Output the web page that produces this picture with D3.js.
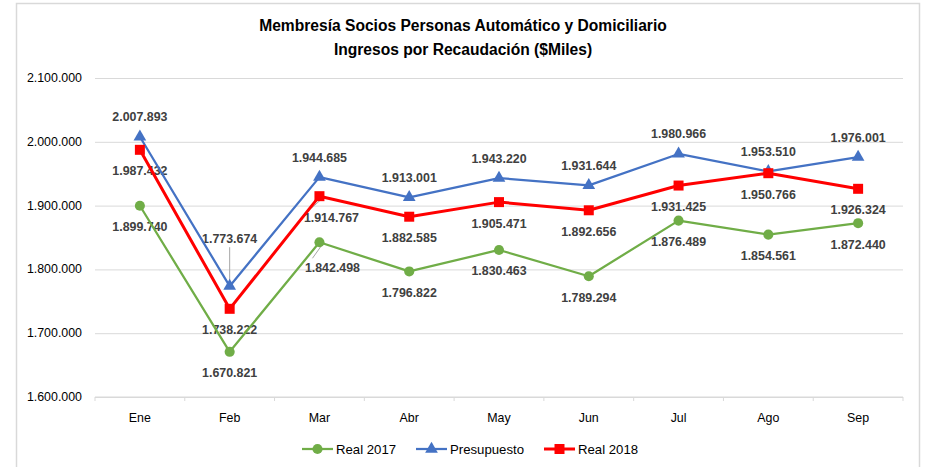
<!DOCTYPE html>
<html>
<head>
<meta charset="utf-8">
<script src="https://cdn.jsdelivr.net/npm/d3@7"></script>
<style>
  body { margin: 0; background: #fff; }
  text { font-family: "Liberation Sans", Arial, sans-serif; }
</style>
</head>
<body>
<div id="chart"></div>
<script>
// Membresía Socios Personas - Ingresos por Recaudación ($Miles)
const months = ["Ene", "Feb", "Mar", "Abr", "May", "Jun", "Jul", "Ago", "Sep"];
const real2017 = [1899740, 1670821, 1842498, 1796822, 1830463, 1789294, 1876489, 1854561, 1872440];
const presupuesto = [2007893, 1773674, 1944685, 1913001, 1943220, 1931644, 1980966, 1953510, 1976001];
const real2018 = [1987432, 1738222, 1914767, 1882585, 1905471, 1892656, 1931425, 1950766, 1926324];
const yTicks = [1600000, 1700000, 1800000, 1900000, 2000000, 2100000];
const titleLines = ["Membresía Socios Personas Automático y Domiciliario", "Ingresos por Recaudación ($Miles)"];

const width = 926, height = 467;
const margin = { top: 78, right: 22, bottom: 70, left: 95 };

const fmt = v => d3.format(",")(v).replace(/,/g, ".");

const series = [
  { name: "Real 2017",   values: real2017,    color: "#70AD47", lw: 2.25, shape: "circle",   pos: "below",
    nudge: { 2: [13, 4] } },
  { name: "Presupuesto", values: presupuesto, color: "#4472C4", lw: 2.25, shape: "triangle", pos: "above",
    nudge: { 1: [0, -28] } },
  { name: "Real 2018",   values: real2018,    color: "#FF0000", lw: 3,    shape: "square",   pos: "below",
    nudge: { 2: [12, 0] } }
];

const svg = d3.select("#chart").append("svg")
  .attr("width", width)
  .attr("height", height);

// chart frame
svg.append("rect")
  .attr("x", 16.5).attr("y", 3.5)
  .attr("width", 903).attr("height", 480)
  .attr("fill", "#fff")
  .attr("stroke", "#d9d9d9")
  .attr("stroke-width", 1.5);

// title
svg.append("g").selectAll("text")
  .data(titleLines)
  .join("text")
  .attr("x", 463)
  .attr("y", (d, i) => 31 + i * 24)
  .attr("text-anchor", "middle")
  .style("font-size", "15.6px")
  .style("font-weight", "bold")
  .style("fill", "#000")
  .text(d => d);

const x = d3.scaleBand()
  .domain(months)
  .range([margin.left, width - margin.right - 1]);

const y = d3.scaleLinear()
  .domain([1600000, 2100000])
  .range([397, 78]);

// gridlines
svg.append("g")
  .attr("transform", `translate(${margin.left},0)`)
  .call(d3.axisLeft(y).tickValues(yTicks).tickSize(-(x.range()[1] - x.range()[0])).tickFormat(""))
  .call(g => g.select(".domain").remove())
  .call(g => g.selectAll("line").attr("stroke", "#d9d9d9").attr("stroke-width", 1));

// y tick labels
svg.append("g").selectAll("text")
  .data(yTicks)
  .join("text")
  .attr("x", 82)
  .attr("y", d => y(d) + 4)
  .attr("text-anchor", "end")
  .style("font-size", "12.4px")
  .style("fill", "#000")
  .text(fmt);

// x axis with ticks at category boundaries
const xAxisG = svg.append("g").attr("transform", `translate(0,${y(1600000)})`);
xAxisG.append("line")
  .attr("x1", x.range()[0]).attr("x2", x.range()[1])
  .attr("stroke", "#d9d9d9");
xAxisG.selectAll(".tk")
  .data(months.concat(["end"]))
  .join("line")
  .attr("class", "tk")
  .attr("x1", (d, i) => i < months.length ? x(d) : x.range()[1])
  .attr("x2", (d, i) => i < months.length ? x(d) : x.range()[1])
  .attr("y1", 0).attr("y2", 4)
  .attr("stroke", "#d9d9d9");
xAxisG.selectAll(".lbl")
  .data(months)
  .join("text")
  .attr("class", "lbl")
  .attr("x", d => x(d) + x.bandwidth() / 2)
  .attr("y", 25)
  .attr("text-anchor", "middle")
  .style("font-size", "12.4px")
  .style("fill", "#000")
  .text(d => d);

const cx = (d, i) => x(months[i]) + x.bandwidth() / 2;

const symbolFor = shape => {
  if (shape === "circle") return d3.symbol(d3.symbolCircle, 80)();
  if (shape === "triangle") return d3.symbol(d3.symbolTriangle, 70)();
  return d3.symbol(d3.symbolSquare, 100)();
};

const line = d3.line()
  .x((d, i) => cx(d, i))
  .y(d => y(d));

const labelLayer = svg.append("g");

series.forEach(s => {
  svg.append("path")
    .datum(s.values)
    .attr("fill", "none")
    .attr("stroke", s.color)
    .attr("stroke-width", s.lw)
    .attr("stroke-linejoin", "round")
    .attr("d", line);

  svg.append("g").selectAll("path")
    .data(s.values)
    .join("path")
    .attr("transform", (d, i) => `translate(${cx(d, i)},${y(d)})`)
    .attr("d", symbolFor(s.shape))
    .attr("fill", s.color);

  s.values.forEach((v, i) => {
    const px = cx(v, i), py = y(v);
    const off = s.pos === "above" ? -20 : 21;
    const n = s.nudge[i] || [0, 0];
    const lx = px + n[0], ly = py + off + n[1];

    // leader line for moved labels
    if (n[0] !== 0 || n[1] !== 0) {
      const lineEnd = n[0] !== 0 ? [lx - 20, ly - 9] : [lx, ly + 9];
      labelLayer.append("line")
        .attr("x1", px + (n[0] !== 0 ? 3 : 0))
        .attr("y1", py + (n[0] !== 0 ? 2 : -6))
        .attr("x2", lineEnd[0])
        .attr("y2", lineEnd[1])
        .attr("stroke", "#a6a6a6")
        .attr("stroke-width", 1);
    }

    labelLayer.append("text")
      .attr("x", lx)
      .attr("y", ly + 4.5)
      .attr("text-anchor", "middle")
      .style("font-size", "12.4px")
      .style("font-weight", "bold")
      .style("fill", "#404040")
      .text(fmt(v));
  });
});

// legend
const legendItems = [
  { s: series[0], x: 302 },
  { s: series[1], x: 416 },
  { s: series[2], x: 544 }
];
const legend = svg.append("g").attr("transform", "translate(0,449)");
legendItems.forEach(({ s, x: lx }) => {
  legend.append("line")
    .attr("x1", lx).attr("x2", lx + 31)
    .attr("stroke", s.color)
    .attr("stroke-width", s.lw);
  legend.append("path")
    .attr("transform", `translate(${lx + 15.5},0)`)
    .attr("d", symbolFor(s.shape))
    .attr("fill", s.color);
  legend.append("text")
    .attr("x", lx + 34)
    .attr("y", 4.5)
    .style("font-size", "13.2px")
    .style("fill", "#000")
    .text(s.name);
});
</script>
</body>
</html>
